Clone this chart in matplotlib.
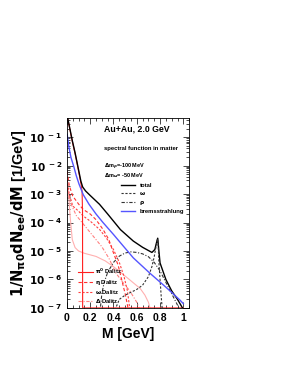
import matplotlib
matplotlib.use("Agg")
import matplotlib.pyplot as plt
from matplotlib.ticker import LogLocator, MultipleLocator, FuncFormatter, NullFormatter
import numpy as np

plt.rcParams['font.family'] = ['Liberation Sans', 'DejaVu Sans']
plt.rcParams['font.weight'] = 'bold'
plt.rcParams['mathtext.default'] = 'bf'

# values, as log10(1/N dN/dM)
m_total = [0.0, 0.02, 0.046, 0.07, 0.09, 0.105, 0.12, 0.135, 0.16, 0.2, 0.28, 0.35, 0.4, 0.46,
           0.57, 0.65, 0.73, 0.755, 0.77, 0.78, 0.79, 0.8, 0.85, 0.9, 0.95, 1.0]
lg_total = [-0.2, -0.6, -1.12, -1.55, -1.95, -2.25, -2.55, -2.75, -2.89, -3.05, -3.36, -3.7,
            -3.95, -4.25, -4.65, -4.87, -5.05, -4.95, -4.7, -4.55, -5.0, -5.42, -6.0, -6.4,
            -6.7, -7.05]

m_omega = [0.40, 0.45, 0.5, 0.55, 0.6, 0.65, 0.7, 0.73, 0.75, 0.765, 0.775, 0.78, 0.785,
           0.79, 0.80, 0.81, 0.822]
lg_omega = [-7.2, -6.7, -6.55, -6.45, -6.35, -6.2, -5.9, -5.55, -5.2, -4.85, -4.62, -4.57,
            -4.9, -5.4, -6.0, -6.6, -7.2]

m_rho = [0.28, 0.29, 0.3, 0.32, 0.35, 0.4, 0.45, 0.5, 0.55, 0.6, 0.65, 0.7, 0.75, 0.8,
         0.85, 0.9, 0.95, 0.98]
lg_rho = [-7.5, -6.9, -6.5, -6.1, -5.75, -5.4, -5.18, -5.07, -5.03, -5.05, -5.1, -5.2,
          -5.4, -5.7, -6.1, -6.5, -6.9, -7.2]

m_brems = [0.002, 0.017, 0.035, 0.06, 0.08, 0.104, 0.14, 0.19, 0.25, 0.31, 0.4, 0.46,
           0.57, 0.71, 0.85, 0.97, 1.0]
lg_brems = [-0.9, -1.35, -1.72, -2.05, -2.35, -2.65, -3.02, -3.36, -3.7, -4.0, -4.42,
            -4.71, -5.24, -5.77, -6.27, -6.72, -6.85]

m_pi0 = [0.0, 0.02, 0.046, 0.07, 0.09, 0.105, 0.12, 0.13, 0.134, 0.1345, 0.135, 0.5, 1.0]
lg_pi0 = [-0.2, -0.62, -1.15, -1.58, -1.98, -2.3, -2.62, -2.9, -3.6, -5.5, -7.0, -7.0, -7.0]

m_eta = [0.002, 0.02, 0.05, 0.1, 0.14, 0.2, 0.25, 0.31, 0.36, 0.4, 0.44, 0.47, 0.5, 0.52, 0.535]
lg_eta = [-2.2, -2.7, -3.07, -3.35, -3.54, -3.7, -3.9, -4.24, -4.6, -5.07, -5.5, -6.0,
          -6.5, -6.9, -7.3]

m_omdal = [0.002, 0.02, 0.05, 0.1, 0.14, 0.2, 0.28, 0.34, 0.4, 0.45, 0.49, 0.52, 0.545]
lg_omdal = [-2.5, -3.0, -3.42, -3.6, -3.77, -3.95, -4.24, -4.55, -4.95, -5.4, -5.89,
            -6.4, -7.2]

m_delta = [0.002, 0.03, 0.08, 0.15, 0.22, 0.3, 0.36, 0.42, 0.48, 0.54, 0.6, 0.64]
lg_delta = [-2.8, -3.3, -3.75, -4.1, -4.45, -4.85, -5.25, -5.77, -6.1, -6.4, -6.8, -7.2]

m_pink = [0.003, 0.017, 0.03, 0.046, 0.07, 0.1, 0.15, 0.25, 0.33, 0.4, 0.47, 0.53, 0.58,
          0.63, 0.67, 0.7, 0.72]
lg_pink = [-2.6, -3.18, -3.9, -4.6, -4.88, -5.0, -5.08, -5.19, -5.35, -5.55, -5.78,
           -5.98, -6.15, -6.32, -6.55, -6.8, -7.1]

fig = plt.figure(figsize=(2.91, 3.76), dpi=100)
ax = fig.add_axes([0.230, 0.181, 0.420, 0.505])

lw = 0.8
ax.plot(m_pink, 10**np.array(lg_pink), color='#ffb0b0', lw=lw)
ax.plot(m_delta, 10**np.array(lg_delta), color='#ff8080', lw=lw, ls=(0, (3, 1.5, 1, 1.5)), label=r'$\Delta$ Dalitz')
ax.plot(m_omdal, 10**np.array(lg_omdal), color='#ff4040', lw=lw, ls=(0, (2, 1.5)), label=r'$\omega$ Dalitz')
ax.plot(m_eta, 10**np.array(lg_eta), color='#ff3030', lw=lw, ls=(0, (3, 2)), label=r'$\eta$ Dalitz')
ax.plot(m_pi0, 10**np.array(lg_pi0), color='#ff2020', lw=lw, label=r'$\pi^0$ Dalitz')

l_tot, = ax.plot(m_total, 10**np.array(lg_total), color='black', lw=1.0, label='total')
l_om, = ax.plot(m_omega, 10**np.array(lg_omega), color='#333333', lw=lw, ls=(0, (2, 1.5)), label=r'$\omega$')
l_rho, = ax.plot(m_rho, 10**np.array(lg_rho), color='#333333', lw=lw, ls=(0, (3, 1.5, 1, 1.5)), label=r'$\rho$')
l_br, = ax.plot(m_brems, 10**np.array(lg_brems), color='#5555ff', lw=1.0, label='bremsstrahlung')

ax.set_yscale('log')
ax.set_xlim(0, 1.05)
ax.set_ylim(1e-7, 10**-0.33)

ax.xaxis.set_major_locator(MultipleLocator(0.2))
ax.xaxis.set_minor_locator(MultipleLocator(0.05))
ax.xaxis.set_major_formatter(FuncFormatter(lambda v, p: '%g' % round(v, 2)))
ax.yaxis.set_major_locator(LogLocator(base=10))
ax.yaxis.set_minor_locator(LogLocator(base=10, subs=np.arange(2, 10)))
ax.yaxis.set_minor_formatter(NullFormatter())
ax.yaxis.set_major_formatter(FuncFormatter(lambda v, p: r'$\mathbf{10^{\ %d}}$' % round(np.log10(v))))
ax.tick_params(which='both', direction='in', top=True, right=True, labelsize=7.5, width=0.5)
ax.tick_params(which='major', length=4)
ax.tick_params(which='minor', length=2)
for s in ax.spines.values():
    s.set_linewidth(0.6)

ax.set_xlabel('M [GeV]', fontsize=10, fontweight='bold', labelpad=3)
ax.set_ylabel(r'$\mathbf{1/N_{\pi 0}dN_{ee}/dM}$ [1/GeV]', fontsize=10.5, fontweight='bold', labelpad=1)

ax.text(0.3, 0.93, 'Au+Au, 2.0 GeV', transform=ax.transAxes, fontsize=6.3, fontweight='bold')
ax.text(0.3, 0.83, 'spectral function in matter', transform=ax.transAxes, fontsize=4.2)
ax.text(0.3, 0.735, r'$\Delta$m$_\rho$=-100 MeV', transform=ax.transAxes, fontsize=4.0)
ax.text(0.3, 0.69, r'$\Delta$m$_\omega$= -50 MeV', transform=ax.transAxes, fontsize=4.0)

leg1 = ax.legend(handles=[l_tot, l_om, l_rho, l_br], loc='upper left', bbox_to_anchor=(0.445, 0.66),
                 frameon=False, fontsize=4.2, handlelength=2.3, labelspacing=0.35, handletextpad=0.8,
                 borderaxespad=0, borderpad=0)
ax.add_artist(leg1)
h, lab = ax.get_legend_handles_labels()
red = [h[lab.index(k)] for k in [r'$\pi^0$ Dalitz', r'$\eta$ Dalitz', r'$\omega$ Dalitz', r'$\Delta$ Dalitz']]
ax.legend(handles=red, loc='upper left', bbox_to_anchor=(0.09, 0.215), frameon=False,
          fontsize=4.2, handlelength=2.5, labelspacing=0.2, handletextpad=0.5,
          borderaxespad=0, borderpad=0)

fig.savefig('out.png', dpi=100)
